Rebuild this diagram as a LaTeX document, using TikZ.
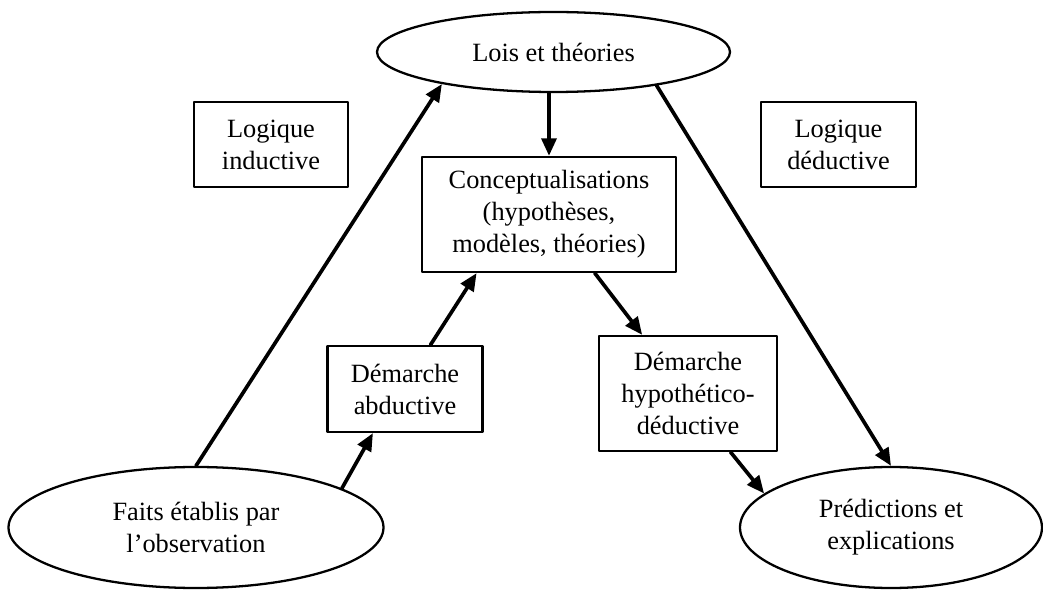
\documentclass[tikz,border=0pt]{standalone}
\usepackage{fontspec}
\setmainfont{Liberation Serif}
\usetikzlibrary{shapes.geometric,arrows.meta}
\tikzset{
	boite/.style={draw, line width=1.3pt, align=center, inner sep=0pt},
	bulle/.style={draw, ellipse, line width=1.3pt, align=center, inner sep=0pt},
	fleche/.style={line width=2.1pt, -{Triangle[length=10pt, width=8.5pt]}}
}
\begin{document}
\begin{tikzpicture}[font=\fontsize{15}{18.2}\selectfont, line join=round, line cap=round]
					\useasboundingbox (0,0) rectangle (20.86,-11.84);
					\node[bulle, minimum width=7.06cm, minimum height=1.6cm] (lois) at (11.07,-1.04) {Lois et théories};
					\node[boite, minimum width=3.08cm, minimum height=1.7cm] (induc) at (5.42,-2.89) {Logique\\inductive};
					\node[boite, minimum width=3.1cm, minimum height=1.7cm] (deduc) at (16.77,-2.89) {Logique\\déductive};
					\node[boite, minimum width=5.08cm, minimum height=2.3cm] (concept) at (10.98,-4.29) {Conceptualisations\\(hypothèses,\\modèles, théories)};
					\node[boite, minimum width=3.1cm, minimum height=1.72cm] (abduc) at (8.1,-7.78) {Démarche\\abductive};
					\node[boite, minimum width=3.56cm, minimum height=2.3cm] (hypo) at (13.76,-7.87) {Démarche\\hypothético-\\déductive};
					\node[bulle, minimum width=7.5cm, minimum height=2.42cm] (faits) at (3.92,-10.55) {Faits établis par\\l’observation};
					\node[bulle, minimum width=6.04cm, minimum height=2.42cm] (pred) at (17.82,-10.55) {Prédictions et\\explications};
					\draw[fleche] (faits.north) -- (lois.196);
					\draw[fleche] (faits.15) -- (abduc.234);
					\draw[fleche] (abduc.60) -- (concept.219);
					\draw[fleche] (concept.north |- lois.south) -- (concept.north);
					\draw[fleche] (concept.308) -- (hypo.128);
					\draw[fleche] (hypo.306) -- (pred.165);
					\draw[fleche] (lois.342) -- (pred.north);
				\end{tikzpicture}
\end{document}
